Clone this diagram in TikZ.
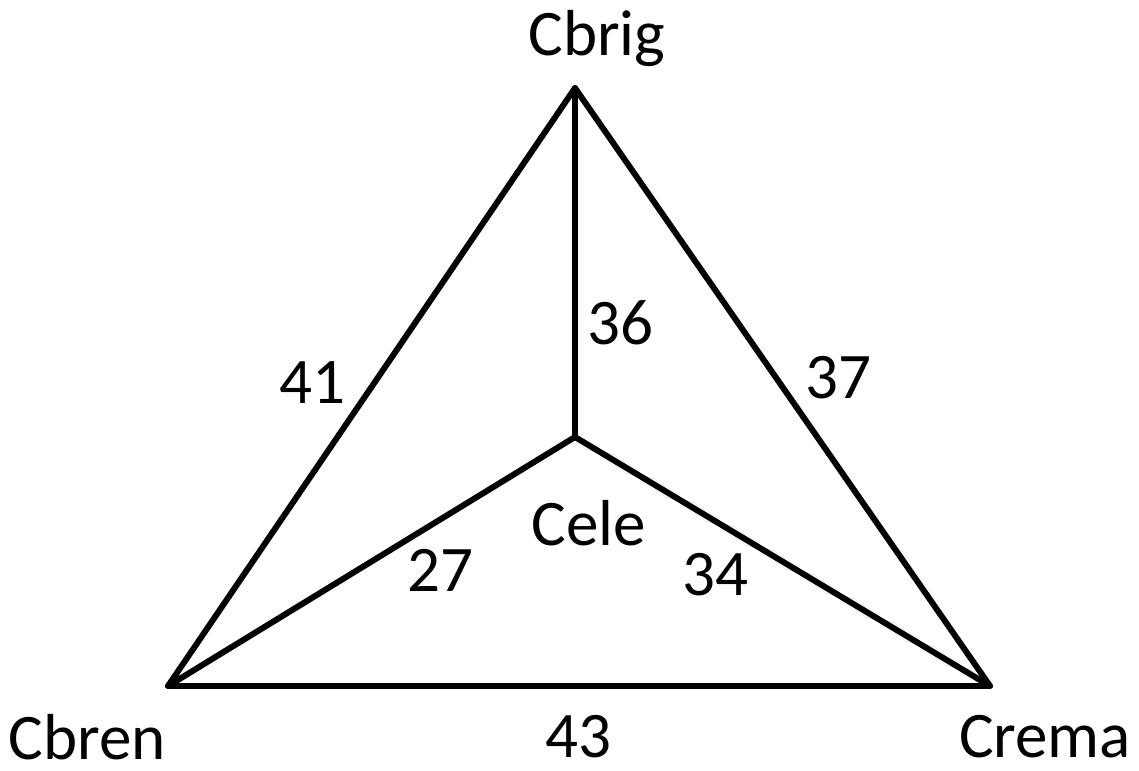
\documentclass[tikz,border=0pt]{standalone}
\usepackage{fontspec}
\setmainfont{Carlito}
\usetikzlibrary{positioning}

\begin{document}
\begin{tikzpicture}[
  edge/.style={draw=black,line width=3.4pt,line cap=round,line join=round},
  vlabel/.style={font=\fontsize{37}{44}\selectfont,inner sep=0pt},
  wlabel/.style={font=\fontsize{37}{44}\selectfont,inner sep=0pt}
]
\useasboundingbox (0,0) rectangle (22.78,15.4);
% vertices
\coordinate (brig) at (11.5,13.64);
\coordinate (bren) at (3.36,1.68);
\coordinate (rema) at (19.8,1.68);
\coordinate (ele)  at (11.5,6.66);
\draw[edge] (brig)--(bren)--(rema)--cycle;
\foreach \v in {brig,bren,rema}
  \draw[edge] (ele)--(\v);
% names
\node[vlabel] (nbrig) at (11.94,14.62) {Cbrig};
\node[vlabel] (nbren) at (1.74,0.66)  {Cbren};
\node[vlabel] (nrema) at (20.9,0.66)  {Crema};
\node[vlabel] (nele)  at (11.78,4.94) {Cele};
% weights
\node[wlabel] (w43) at (11.56,0.66) {43};
\node[wlabel] (w36) at (12.4,8.94)  {36};
\node[wlabel] (w41) at (6.24,7.74)  {41};
\node[wlabel] (w37) at (16.76,7.84) {37};
\node[wlabel] (w27) at (8.8,4.0)    {27};
\node[wlabel] (w34) at (14.3,3.9)   {34};
\end{tikzpicture}
\end{document}
